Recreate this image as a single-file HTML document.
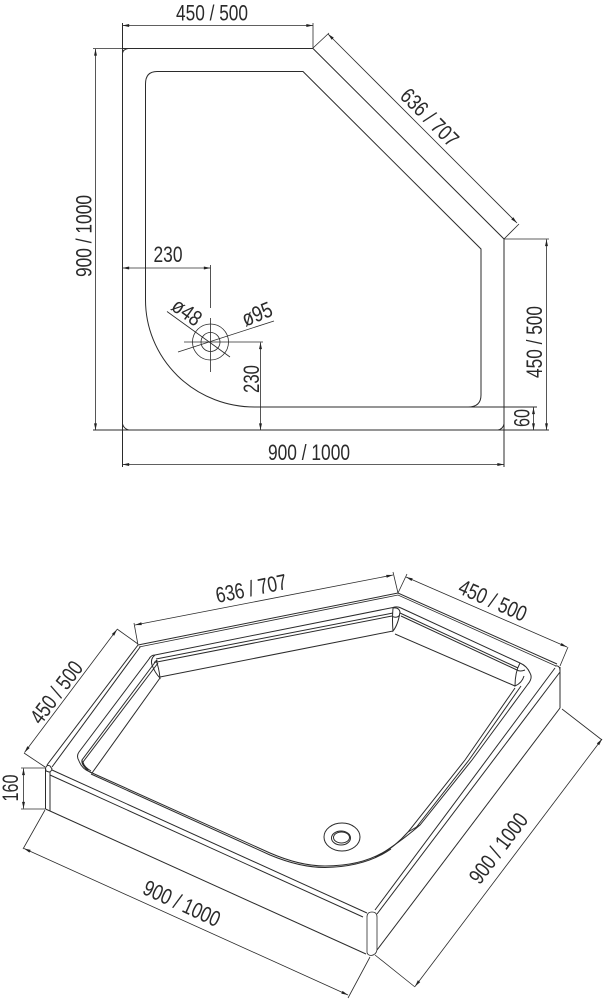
<!DOCTYPE html>
<html>
<head>
<meta charset="utf-8">
<style>
html,body{margin:0;padding:0;background:#fff;width:604px;height:999px;overflow:hidden}
svg{display:block}
text{font-family:"Liberation Sans",sans-serif;font-size:22px;fill:#2a2a2a;text-anchor:middle}
.l{fill:none;stroke:#2b2b2b;stroke-width:1}
.t{fill:none;stroke:#2b2b2b;stroke-width:.8}
</style>
</head>
<body>
<svg width="604" height="999" viewBox="0 0 604 999" xmlns="http://www.w3.org/2000/svg">
<defs>
<marker id="a" viewBox="0 0 10 6" refX="10" refY="3" markerWidth="8" markerHeight="4" orient="auto-start-reverse" markerUnits="userSpaceOnUse"><path d="M10 3L0 0.8V5.200Z" fill="#222"/></marker>
</defs>

<!-- TOP VIEW -->
<g class="l">
<path d="M122.500 23V467"/>
<path d="M122.500 48.500H313L504 239V467"/>
<path d="M93 430H549"/>
<path d="M157 71.500H303L481 249V395Q481 407 468 407H255A109 107 0 0 1 145.500 300V84Q145.500 71.500 157 71.500Z"/>
<path d="M468 407H537"/>
<path d="M122.500 53Q123 49.500 128 48.500M122.500 424Q124 429 129 430M504 424Q503 429 498 430"/>
</g>
<g class="t">
<path d="M313 23V48M93 48.500H122M313 48L329 33M504 239L519 224M504 239H549"/>
<path d="M122.500 25.500H313" marker-start="url(#a)" marker-end="url(#a)"/>
<path d="M328 34L517 223" marker-start="url(#a)" marker-end="url(#a)"/>
<path d="M95.500 49V430" marker-start="url(#a)" marker-end="url(#a)"/>
<path d="M546.500 239.500V430" marker-start="url(#a)" marker-end="url(#a)"/>
<path d="M533.500 407.500V430" marker-start="url(#a)" marker-end="url(#a)"/>
<path d="M122.500 464.500H504" marker-start="url(#a)" marker-end="url(#a)"/>
<path d="M122.500 268H210.500" marker-start="url(#a)" marker-end="url(#a)"/>
<path d="M260.500 342.500V430" marker-start="url(#a)" marker-end="url(#a)"/>
<path d="M210.500 265V308M210.500 318V372"/>
<path d="M184 342H240M238 342H263"/>
<path d="M167 311.500L230 357"/>
<path d="M178 352L274 321"/>
<circle cx="210.500" cy="342" r="18"/>
<circle cx="210.500" cy="342" r="9.500"/>
</g>

<text x="212" y="20.500" textLength="72" lengthAdjust="spacingAndGlyphs">450 / 500</text>
<text transform="translate(430 117) rotate(45)" y="8" textLength="72" lengthAdjust="spacingAndGlyphs">636 / 707</text>
<text transform="translate(91.500 236) rotate(-90)" textLength="82" lengthAdjust="spacingAndGlyphs">900 / 1000</text>
<text x="168" y="262" textLength="29" lengthAdjust="spacingAndGlyphs">230</text>
<text transform="translate(187 312) rotate(36)" y="7.500" textLength="31" lengthAdjust="spacingAndGlyphs">ø48</text>
<text transform="translate(257 314) rotate(-22)" y="7.500" textLength="31" lengthAdjust="spacingAndGlyphs">ø95</text>
<text transform="translate(259 379) rotate(-90)" textLength="28" lengthAdjust="spacingAndGlyphs">230</text>
<text transform="translate(542 342) rotate(-90)" textLength="72" lengthAdjust="spacingAndGlyphs">450 / 500</text>
<text transform="translate(529.500 418) rotate(-90)" textLength="18" lengthAdjust="spacingAndGlyphs">60</text>
<text x="309" y="460" textLength="82" lengthAdjust="spacingAndGlyphs">900 / 1000</text>

<!-- ISO VIEW: body -->
<g class="l">
<path d="M138 645L398 593L557 664"/>
<path d="M139 647L398 595L556 666" stroke-width=".8"/>
<path d="M138 645L47 765"/>
<path d="M140.500 646.500L52 767"/>
<path d="M45.500 768Q47 764 50 766L52 769Q51 772 49 772L46 771Z"/>
<path d="M45.500 768V809M50 772V811M45.500 809L50 811"/>
<path d="M52 770L367 913"/>
<path d="M50 775L363 917"/>
<path d="M50 811L366 954"/>
<path d="M367 917Q367 912 372 912Q377 912 377 917V950Q376 955 371 955.500Q367 955 367 952Z" stroke-width=".8"/>
<path d="M377 950L560 708"/>
<path d="M375 910L555 668"/>
<path d="M377 914L560 672"/>
<path d="M560 667V708M555 666Q560 665 560 671"/>
</g>

<!-- ISO VIEW: basin -->
<g class="l" stroke-width=".9">
<!-- outer rim line -->
<path d="M393 607.500L155 655Q151 655 149 659L79 752Q76 756 79 761Q82 769 90 772L270 853Q300 866 325 866Q365 866 390 848Q405 838 420 825L472 760L528 684Q533 678 530 673Q527 666 520 663L401 608Q397 606 393 607.500"/>
<path d="M91 774L270 855Q300 867.500 325 867.500Q365 867 391 849"/>
<!-- shelf double lines -->
<path d="M156 661L82 760Q81 765 88 770"/>
<path d="M158 663L83 762Q84 767 91 771"/>
<path d="M156 659L393 613M157 662L392 616"/>
<path d="M400 613L518 668M401 616L517 670"/>
<path d="M521 686L469 760L415 829"/>
<path d="M408 832L420 825"/>
<!-- wall bottom lines -->
<path d="M160 678L92 773"/>
<path d="M160 677L393 631"/>
<path d="M395 634L515 686"/>
<path d="M515 688L465 760L408 832Q392 850 375 857"/>
<!-- corner details -->
<path d="M155 655Q150 659 152 665Q155 673 160 678Q159 668 156 660M154 662Q157 663 157 660"/>
<path d="M393 608Q392 620 393 631Q398 625 400 612Q399 607 393 608M392 616Q396 619 400 615"/>
<path d="M520 663Q515 672 515 686Q522 683 524 676M517 670Q520 672 525 670"/>
<path d="M82 760Q84 770 92 773"/>
<ellipse cx="342" cy="837" rx="18" ry="14"/>
<ellipse cx="341" cy="838" rx="9.500" ry="7"/>
<ellipse cx="341.500" cy="837.500" rx="8" ry="5.500"/>
</g>

<!-- ISO VIEW: dimensions -->
<g class="t">
<path d="M134 623L138 645M393 572L398 593M407 574L398 593M568 647L560 666"/>
<path d="M117 629L138 644M24 753L45 767M45 810L23 849M370 957L348 998M375 955L415 987M562 709L602 740"/>
<path d="M21 768H45M21 809H45"/>
<path d="M135 625L393 575" marker-start="url(#a)" marker-end="url(#a)"/>
<path d="M406 577L567 647" marker-start="url(#a)" marker-end="url(#a)"/>
<path d="M24.500 752.500L117 629.500" marker-start="url(#a)" marker-end="url(#a)"/>
<path d="M23.500 768.500V808.500" marker-start="url(#a)" marker-end="url(#a)"/>
<path d="M24 848.500L348 995" marker-start="url(#a)" marker-end="url(#a)"/>
<path d="M415 986.500L602 739" marker-start="url(#a)" marker-end="url(#a)"/>
</g>

<text transform="translate(251 588) rotate(-11.500)" y="8" textLength="72" lengthAdjust="spacingAndGlyphs">636 / 707</text>
<text transform="translate(493 600) rotate(24)" y="8" textLength="72" lengthAdjust="spacingAndGlyphs">450 / 500</text>
<text transform="translate(56 692) rotate(-53)" y="8" textLength="72" lengthAdjust="spacingAndGlyphs">450 / 500</text>
<text transform="translate(18 788) rotate(-90)" textLength="27" lengthAdjust="spacingAndGlyphs">160</text>
<text transform="translate(182 903) rotate(24.500)" y="8" textLength="82" lengthAdjust="spacingAndGlyphs">900 / 1000</text>
<text transform="translate(498 848) rotate(-53)" y="8" textLength="82" lengthAdjust="spacingAndGlyphs">900 / 1000</text>
</svg>
</body>
</html>
